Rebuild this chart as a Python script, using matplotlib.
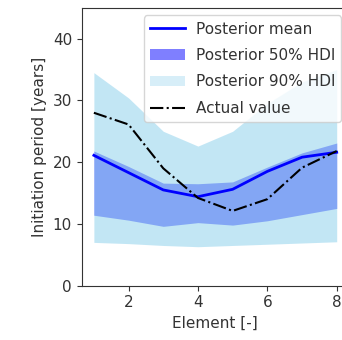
import matplotlib
matplotlib.use("Agg")
import matplotlib.pyplot as plt
from matplotlib.patches import Patch
from matplotlib.lines import Line2D

elements = [1, 2, 3, 4, 5, 6, 7, 8]
post_mean = [21.1, 18.3, 15.5, 14.4, 15.6, 18.5, 20.8, 21.6]
hdi50_low = [11.4, 10.6, 9.6, 10.2, 9.8, 10.5, 11.5, 12.5]
hdi50_high = [21.8, 19.3, 16.6, 16.5, 16.8, 19.2, 21.5, 23.1]
hdi90_low = [7.0, 6.8, 6.5, 6.3, 6.5, 6.7, 6.9, 7.1]
hdi90_high = [34.5, 30.4, 25.0, 22.6, 25.0, 29.5, 33.0, 35.0]
actual = [28.0, 26.1, 19.0, 14.2, 12.1, 14.0, 19.1, 21.8]

dark = "#333333"
plt.rcParams.update({
    "font.size": 11,
    "text.color": dark,
    "axes.labelcolor": dark,
    "axes.edgecolor": dark,
    "xtick.color": dark,
    "ytick.color": dark,
})

fig = plt.figure(figsize=(3.42, 3.40), dpi=100)
ax = fig.add_axes([0.239, 0.16, 0.781, 0.817])

# 50% band first, 90% band painted over it
ax.fill_between(elements, hdi50_low, hdi50_high, color="blue", alpha=0.5, linewidth=0)
ax.fill_between(elements, hdi90_low, hdi90_high, color="skyblue", alpha=0.5, linewidth=0)
ax.plot(elements, post_mean, color="blue", lw=2)
ax.plot(elements, actual, "k-.", lw=1.5)

ax.set_ylim(0, 45)
ax.set_xlim(0.65, 8.35)
ax.set_xticks([2, 4, 6, 8])
ax.set_yticks([0, 10, 20, 30, 40])
ax.set_xlabel("Element [-]")
ax.set_ylabel("Initiation period [years]")

handles = [
    Line2D([], [], color="blue", lw=2),
    Patch(facecolor="blue", alpha=0.5),
    Patch(facecolor="skyblue", alpha=0.33),
    Line2D([], [], color="k", ls="-.", lw=1.5),
]
labels = ["Posterior mean", "Posterior 50% HDI", "Posterior 90% HDI", "Actual value"]
ax.legend(handles, labels, loc="upper right", labelspacing=0.75, handlelength=2.3,
          handletextpad=0.7)

fig.savefig("out.png", dpi=100)
